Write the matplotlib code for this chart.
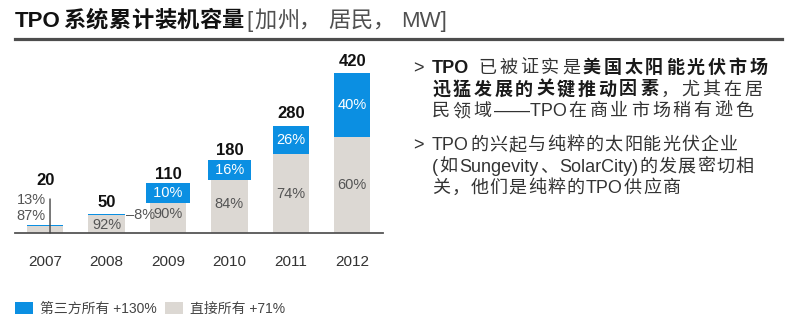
import matplotlib
matplotlib.use('Agg')
import matplotlib.pyplot as plt
from matplotlib.patches import Patch
from matplotlib.lines import Line2D
import numpy as np

plt.rcParams['font.family'] = ['Liberation Sans', 'Noto Sans CJK SC', 'DejaVu Sans']

# ---------------- data ----------------
years = ['2007', '2008', '2009', '2010', '2011', '2012']
totals = [20, 50, 110, 180, 280, 420]
third_party_pct = [13, 8, 10, 16, 26, 40]
direct_pct = [87, 92, 90, 84, 74, 60]
legend_labels = ['第三方所有 +130%', '直接所有 +71%']
title_main = 'TPO系统累计装机容量'
title_sub = '[加州，居民，MW]'
bullet1 = [
    [('TPO', True), (' ', False), ('已被证实是', False), ('美国太阳能光伏市场', True)],
    [('迅猛发展的关键推动因素', True), ('，尤其在居', False)],
    [('民领域——TPO在商业市场稍有逊色', False)],
]
bullet2 = [
    [('TPO的兴起与纯粹的太阳能光伏企业', False)],
    [('(如Sungevity、SolarCity)的发展密切相', False)],
    [('关，他们是纯粹的TPO供应商', False)],
]

BLUE = '#0b8fe2'
GRAY = '#dcd8d3'
TXT = '#333333'

W, H = 800, 328
fig = plt.figure(figsize=(8, 3.28), dpi=100)
fig.patch.set_facecolor('white')


def fx(px):
    return px / W


def fy(py):
    return 1 - py / H


renderer = fig.canvas.get_renderer()


def is_cjk_char(ch):
    return ord(ch) >= 0x2E80


def tokens(s):
    out = []
    buf = ''
    for ch in s:
        if is_cjk_char(ch) or ch == ' ':
            if buf:
                out.append(buf)
                buf = ''
            out.append(ch)
        else:
            buf += ch
    if buf:
        out.append(buf)
    return out


def put_runs(x0, ybase, runs, size, cjk_adv, color=TXT, bold_color='#1a1a1a',
             space=6, gap=1.5, comma_extra=0):
    xpos = x0
    for txt, bold in runs:
        for tok in tokens(txt):
            if tok == ' ':
                xpos += space
                continue
            t = fig.text(fx(xpos), fy(ybase), tok, fontsize=size,
                         weight='bold' if bold else 'normal',
                         color=bold_color if bold else color,
                         ha='left', va='baseline')
            if len(tok) == 1 and is_cjk_char(tok):
                xpos += cjk_adv
                if tok == '，':
                    xpos += comma_extra
            else:
                xpos += t.get_window_extent(renderer).width + gap
    return xpos


# ---------------- title ----------------
xe = put_runs(15, 27, [(title_main, True)], 16, 22.8, bold_color='#111111', gap=2)
put_runs(xe + 1, 27, [(title_sub, False)], 16, 22.5, color='#505050', gap=2, comma_extra=6)
fig.add_artist(Line2D([fx(15), fx(782)], [fy(39), fy(39)], color='#4d4d4d', lw=2.3))

# ---------------- chart ----------------
ax = fig.add_axes([fx(15), fy(233), fx(383) - fx(15), fy(50) - fy(233)])
x = np.arange(len(years))
tot = np.array(totals, float)
tp = tot * np.array(third_party_pct) / 100
dr = tot * np.array(direct_pct) / 100
bw = 0.59
ax.bar(x, dr, bw, color=GRAY, zorder=2)
ax.bar(x, tp, bw, bottom=dr, color=BLUE, zorder=2)
ax.set_xlim(-0.49, 5.5)
ax.set_ylim(0, 480)
for s in ['top', 'right', 'left']:
    ax.spines[s].set_visible(False)
ax.spines['bottom'].set_color('#555555')
ax.spines['bottom'].set_linewidth(1.3)
ax.set_yticks([])
ax.set_xticks(x, years)
ax.tick_params(axis='x', length=0, pad=15.5, labelsize=11, labelcolor=TXT)

# total labels
label_off = [32, 8, 12, 10, 9, 8.5]
for i in range(len(years)):
    ax.annotate(str(totals[i]), xy=(x[i], tot[i]), xytext=(0, label_off[i]),
                textcoords='offset points', ha='center', va='center',
                fontsize=12, weight='bold', color='#111111')

# percentage labels
for i in range(2, len(years)):
    ax.text(x[i], dr[i] / 2, f'{direct_pct[i]}%', ha='center', va='center',
            fontsize=10.5, color='#555555', zorder=4)
    if i >= 4:
        ax.text(x[i], dr[i] + tp[i] / 2, f'{third_party_pct[i]}%', ha='center',
                va='center', fontsize=10.5, color='white', zorder=4)
    else:
        ax.text(x[i], dr[i] + tp[i] / 2, f' {third_party_pct[i]}% ', ha='center',
                va='center', fontsize=10.5, color='white', zorder=5,
                bbox=dict(boxstyle='square,pad=0.22', fc=BLUE, ec='none'))

# 2008
ax.text(x[1], dr[1] / 2 - 2, f'{direct_pct[1]}%', ha='center', va='center',
        fontsize=10.5, color='#555555', zorder=4)
ax.annotate(f'–{third_party_pct[1]}%', xy=(x[1] + bw / 2, tot[1]), xytext=(1, -0.5),
            textcoords='offset points', ha='left', va='center', fontsize=10.5, color='#555555')

# 2007
lx = x[0] + 0.08
ax.annotate('', xy=(lx, 0), xytext=(0, 24.5), textcoords='offset points',
            arrowprops=dict(arrowstyle='-', color='#444444', lw=1, shrinkA=0, shrinkB=0))
ax.annotate(f'{third_party_pct[0]}%', xy=(lx, 0), xytext=(-3, 23.5), textcoords='offset points',
            ha='right', va='center', fontsize=10.5, color='#555555')
ax.annotate(f'{direct_pct[0]}%', xy=(lx, 0), xytext=(-3, 12), textcoords='offset points',
            ha='right', va='center', fontsize=10.5, color='#555555')

# legend
handles = [Patch(facecolor=BLUE, edgecolor='none'), Patch(facecolor=GRAY, edgecolor='none')]
fig.legend(handles, legend_labels, loc='center left', bbox_to_anchor=(fx(15), fy(309)),
           ncol=2, frameon=False, fontsize=10, handlelength=1.3, handleheight=1.0,
           handletextpad=0.5, columnspacing=0.6, borderpad=0, borderaxespad=0,
           labelcolor='#444444')

# ---------------- right text ----------------
for lines, y0, adv in [(bullet1, 73, 20.8), (bullet2, 150, 19.2)]:
    fig.text(fx(413), fy(y0), '>', fontsize=13, color=TXT, ha='left', va='baseline')
    for j, runs in enumerate(lines):
        put_runs(432, y0 + j * 21.5, runs, 13, adv, space=8)

fig.savefig('out.png', dpi=100, facecolor='white')
